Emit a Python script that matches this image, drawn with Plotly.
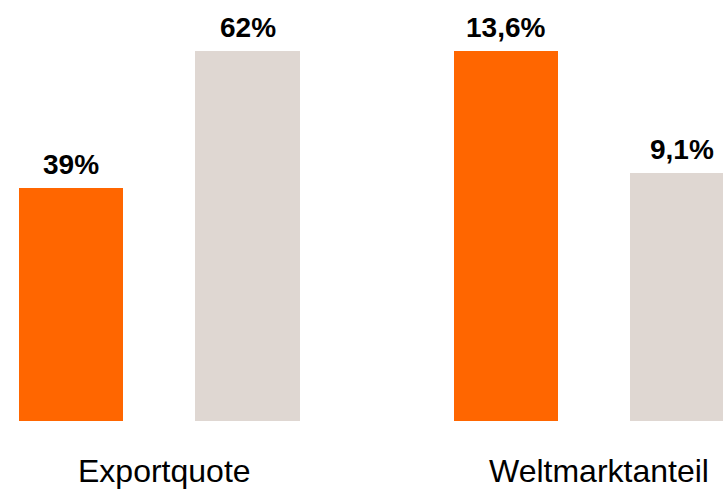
import plotly.graph_objects as go
from plotly.subplots import make_subplots

groups = ["Exportquote", "Weltmarktanteil"]
series_a = [39.0, 13.6]   # orange
series_b = [62.0, 9.1]    # gray
labels_a = ["39%", "13,6%"]
labels_b = ["62%", "9,1%"]

ORANGE = "#FF6600"
GRAY = "#DFD7D2"
FONT = "Liberation Sans, Arial, sans-serif"

W, H = 723, 489
fig = make_subplots(rows=1, cols=2, horizontal_spacing=0.0)

px_per_unit = 176.5
bar_w = 104.5 / px_per_unit
plot_bottom_px = 421
plot_top_px = 51
left_centers_px = [71.0, 505.5]
domains = [(0.0, 0.5), (0.5, 1.0)]

for i, g in enumerate(groups):
    vals = [series_a[i], series_b[i]]
    txts = [labels_a[i], labels_b[i]]
    cols = [ORANGE, GRAY]
    xs = [0, 1]
    fig.add_trace(go.Bar(x=xs, y=vals, width=[bar_w, bar_w], marker=dict(color=cols, line=dict(width=0)),
                         showlegend=False, hoverinfo="skip"), row=1, col=i + 1)
    d0, d1 = domains[i]
    p0, p1 = d0 * W, d1 * W
    c = left_centers_px[i]
    xr = [(p0 - c) / px_per_unit, (p1 - c) / px_per_unit]
    ymax = max(vals) * plot_bottom_px / (plot_bottom_px - plot_top_px)
    ax = "" if i == 0 else str(i + 1)
    fig.update_layout(**{
        f"xaxis{ax}": dict(domain=[d0, d1], range=xr, visible=False, fixedrange=True),
        f"yaxis{ax}": dict(range=[0, ymax], visible=False, fixedrange=True),
    })
    for x, v, t in zip(xs, vals, txts):
        fig.add_annotation(x=x, y=v, xref=f"x{ax}", yref=f"y{ax}", text=f"<b>{t}</b>", showarrow=False,
                           yanchor="bottom", yshift=6, font=dict(family=FONT, size=28, color="#000000"))
    fig.add_annotation(x=0.5, y=0, xref=f"x{ax}", yref=f"y{ax}", text=g, showarrow=False,
                       yanchor="top", yshift=-30, xshift=5,
                       font=dict(family=FONT, size=32, color="#000000"))

fig.update_layout(width=W, height=H, margin=dict(l=0, r=0, t=0, b=H - plot_bottom_px),
                  paper_bgcolor="white", plot_bgcolor="white", bargap=0)
fig.write_html("out.html")
